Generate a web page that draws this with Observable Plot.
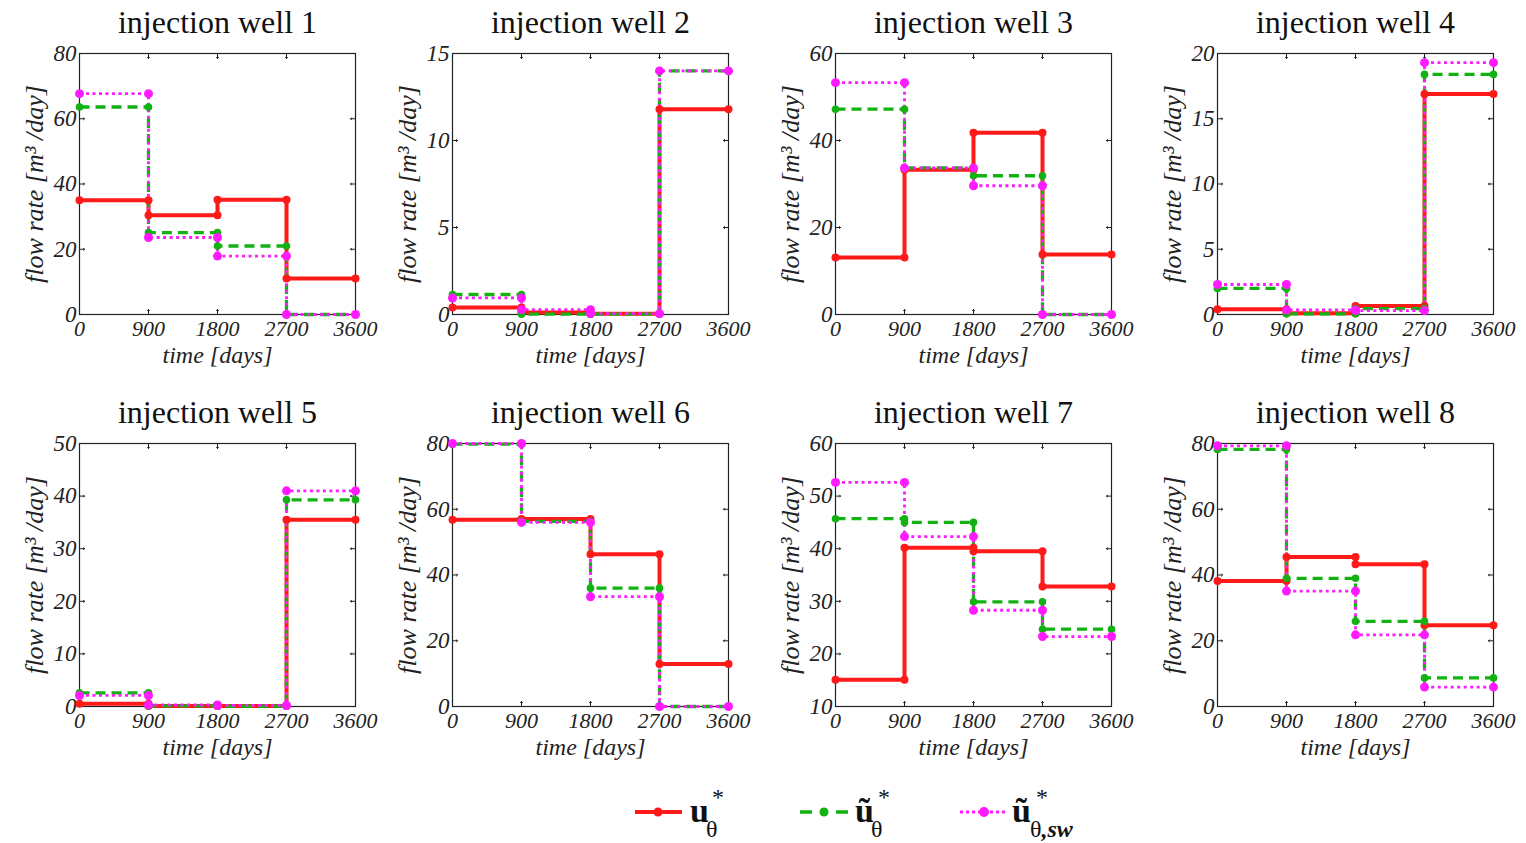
<!DOCTYPE html>
<html><head><meta charset="utf-8">
<script src="https://cdn.jsdelivr.net/npm/d3@7"></script>
<script src="https://cdn.jsdelivr.net/npm/@observablehq/plot@0.6"></script>
<style>
html,body{margin:0;padding:0;background:#fff;}
body{width:1526px;height:843px;overflow:hidden;position:relative;font-family:"Liberation Serif",serif;}
.panel{position:absolute;}
.panel svg{overflow:visible;}
#legend{position:absolute;left:0;top:780px;}
</style></head><body>
<div id="charts"></div>
<svg id="legend" width="1526" height="63"></svg>
<script>
// ---- data ----
const times = [0, 900, 1800, 2700, 3600];
const wellTitles = ["injection well 1","injection well 2","injection well 3","injection well 4",
                    "injection well 5","injection well 6","injection well 7","injection well 8"];
const yDomains = [[0,80],[0,15],[0,60],[0,20],[0,50],[0,80],[10,60],[0,80]];
const yTicks = [[0,20,40,60,80],[0,5,10,15],[0,20,40,60],[0,5,10,15,20],
                [0,10,20,30,40,50],[0,20,40,60,80],[10,20,30,40,50,60],[0,20,40,60,80]];
// u*_theta (red)
const uOpt = [
  [35.0, 30.4, 35.2, 11.0],
  [0.4, 0.12, 0.05, 11.8],
  [13.1, 33.3, 41.8, 13.8],
  [0.4, 0.1, 0.65, 16.9],
  [0.5, 0.1, 0.1, 35.5],
  [56.8, 57.0, 46.3, 12.9],
  [15.1, 40.2, 39.5, 32.8],
  [38.2, 45.5, 43.3, 24.7]
];
// ~u*_theta (green)
const uTilde = [
  [63.6, 25.1, 21.0, 0],
  [1.15, 0.02, 0.02, 14.0],
  [47.2, 33.7, 31.9, 0],
  [2.0, 0.05, 0.45, 18.4],
  [2.6, 0.1, 0.05, 39.3],
  [79.8, 56.3, 36.0, 0],
  [45.7, 45.0, 29.9, 24.7],
  [78.2, 39.0, 25.9, 8.7]
];
// ~u*_theta,sw (magenta)
const uTildeSw = [
  [67.7, 23.6, 17.9, 0],
  [0.95, 0.28, 0.05, 14.0],
  [53.3, 33.7, 29.6, 0],
  [2.3, 0.35, 0.3, 19.3],
  [2.1, 0.3, 0.2, 41.0],
  [80.0, 56.0, 33.4, 0],
  [52.6, 42.3, 28.3, 23.3],
  [79.3, 35.1, 21.8, 5.9]
];

// ---- styles / layout ----
const seriesStyles = [
  {values: uOpt,     stroke: "#ff1a1a", width: 4,   dash: null,     r: 4},
  {values: uTilde,   stroke: "#12b212", width: 3.3, dash: "10,6",   r: 3.8},
  {values: uTildeSw, stroke: "#ff1aff", width: 2.8, dash: "3,3.5",  r: 4.5}
];
const frameLefts = [79, 452, 835, 1217];
const frameTops = [53, 443];
const frameHeights = [261, 263];
const ML = 79, MR = 25, MT = 53, MB = 56, FW = 276;
const serif = "'Liberation Serif', 'Times New Roman', serif";
const axisColor = "#222";

const container = document.getElementById("charts");
wellTitles.forEach((title, w) => {
  const row = Math.floor(w / 4), col = w % 4;
  const H = MT + frameHeights[row] + MB;
  const linePts = [], dotPts = [];
  seriesStyles.forEach((s, si) => {
    const v = s.values[w];
    v.forEach((val, i) => {
      linePts.push({s: si, x: times[i], y: val});
      dotPts.push({s: si, x: times[i], y: val});
      dotPts.push({s: si, x: times[i + 1], y: val});
    });
    linePts.push({s: si, x: times[4], y: v[3]});
  });
  const inner = times.slice(1, -1);
  const yt = yTicks[w];
  const yInner = yt.filter(t => t !== yDomains[w][0] && t !== yDomains[w][1]);
  const marks = [
    Plot.axisX({ticks: times, tickSize: 0, tickPadding: 6, tickFormat: d => String(d), label: null,
                fontSize: 22, fontStyle: "italic", fontFamily: serif}),
    Plot.axisY({ticks: yt, tickSize: 0, tickPadding: 3, tickFormat: d => String(d), label: null,
                fontSize: 23, fontStyle: "italic", fontFamily: serif}),
    Plot.vector(inner, {x: d => d, frameAnchor: "bottom", rotate: 0, length: 5, anchor: "start", stroke: axisColor, strokeWidth: 1}),
    Plot.vector(inner, {x: d => d, frameAnchor: "top", rotate: 180, length: 5, anchor: "start", stroke: axisColor, strokeWidth: 1}),
    Plot.vector(yInner, {y: d => d, frameAnchor: "left", rotate: 90, length: 5, anchor: "start", stroke: axisColor, strokeWidth: 1}),
    Plot.vector(yInner, {y: d => d, frameAnchor: "right", rotate: -90, length: 5, anchor: "start", stroke: axisColor, strokeWidth: 1}),
    Plot.frame({stroke: axisColor, strokeWidth: 1.2})
  ];
  seriesStyles.forEach((s, si) => {
    marks.push(Plot.line(linePts.filter(d => d.s === si), {
      x: "x", y: "y", curve: "step-after", stroke: s.stroke, strokeWidth: s.width,
      strokeDasharray: s.dash, strokeLinecap: "butt", strokeLinejoin: "miter"
    }));
  });
  seriesStyles.forEach((s, si) => {
    marks.push(Plot.dot(dotPts.filter(d => d.s === si), {x: "x", y: "y", r: s.r, fill: s.stroke, stroke: null}));
  });
  marks.push(
    Plot.text([title], {text: d => d, frameAnchor: "top", dy: -31, textAnchor: "middle", lineAnchor: "middle",
      fontSize: 32, fontFamily: serif, fill: "#111"}),
    Plot.text(["flow rate [m³ /day]"], {text: d => d, frameAnchor: "left", dx: -45, rotate: -90,
      textAnchor: "middle", lineAnchor: "middle",
      fontSize: 26, fontStyle: "italic", fontFamily: serif, fill: "#222"}),
    Plot.text(["time [days]"], {text: d => d, frameAnchor: "bottom", dy: 41,
      textAnchor: "middle", lineAnchor: "middle",
      fontSize: 24, fontStyle: "italic", fontFamily: serif, fill: "#222"})
  );
  const chart = Plot.plot({
    width: ML + FW + MR, height: H,
    marginLeft: ML, marginRight: MR, marginTop: MT, marginBottom: MB,
    x: {domain: [0, 3600]},
    y: {domain: yDomains[w]},
    style: {fontFamily: serif, background: "transparent", overflow: "visible", color: "#222"},
    marks
  });
  const div = document.createElement("div");
  div.className = "panel";
  div.style.left = (frameLefts[col] - ML) + "px";
  div.style.top = (frameTops[row] - MT) + "px";
  div.appendChild(chart);
  container.appendChild(div);
});

// ---- legend ----
const legendItems = [
  {x0: 635, x1: 682, cx: 658, stroke: "#ff1a1a", width: 4, dash: null, r: 4.5,
   lx: 690, main: "u", sx: 712, subx: 706, sub: "θ", subsw: ""},
  {x0: 800, x1: 848, cx: 824, stroke: "#12b212", width: 3.3, dash: "12,24,12", r: 4.5,
   lx: 855, main: "ũ", sx: 878, subx: 871, sub: "θ", subsw: ""},
  {x0: 960, x1: 1006, cx: 984, stroke: "#ff1aff", width: 2.8, dash: "3,3", r: 5,
   lx: 1012, main: "ũ", sx: 1036, subx: 1030, sub: "θ", subsw: ",sw"}
];
const NS = "http://www.w3.org/2000/svg";
const leg = document.getElementById("legend");
function el(tag, attrs, text) {
  const e = document.createElementNS(NS, tag);
  for (const k in attrs) e.setAttribute(k, attrs[k]);
  if (text != null) e.textContent = text;
  leg.appendChild(e);
  return e;
}
legendItems.forEach(it => {
  const a = {x1: it.x0, x2: it.x1, y1: 32, y2: 32, stroke: it.stroke, "stroke-width": it.width};
  if (it.dash) a["stroke-dasharray"] = it.dash;
  el("line", a);
  el("circle", {cx: it.cx, cy: 32, r: it.r, fill: it.stroke});
  el("text", {x: it.lx, y: 42, "font-family": serif, "font-size": 34, "font-weight": "bold", fill: "#111"}, it.main);
  el("text", {x: it.sx, y: 25, "font-family": serif, "font-size": 24, fill: "#111"}, "*");
  const t = el("text", {x: it.subx, y: 57, "font-family": serif, "font-size": 24, fill: "#111"}, it.sub);
  if (it.subsw) {
    const ts = document.createElementNS(NS, "tspan");
    ts.setAttribute("font-weight", "bold");
    ts.setAttribute("font-style", "italic");
    ts.textContent = it.subsw;
    t.appendChild(ts);
  }
});
</script>
</body></html>
